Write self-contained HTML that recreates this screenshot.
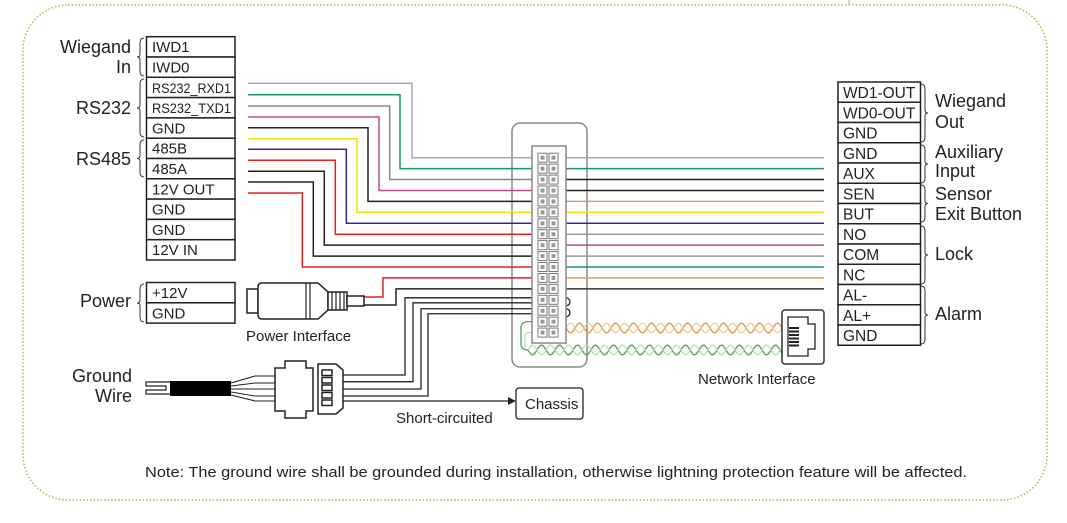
<!DOCTYPE html>
<html><head><meta charset="utf-8"><style>
html,body{margin:0;padding:0;background:#fff;}
svg{display:block;font-family:"Liberation Sans",sans-serif;}
</style></head><body>
<svg id="s" width="1067" height="523" viewBox="0 0 1067 523" xmlns="http://www.w3.org/2000/svg">
<rect x="23" y="5" width="1024" height="495" rx="45" fill="none" stroke="#8cc850" stroke-width="1.5" stroke-dasharray="1.5 2"/>
<line x1="849" y1="0" x2="849" y2="5" stroke="#8cc850"/>
<g id="g"></g>
<g font-size="18" fill="#222">
<text x="131" y="53" text-anchor="end">Wiegand</text>
<text x="131" y="73" text-anchor="end">In</text>
<text x="131" y="114" text-anchor="end">RS232</text>
<text x="131" y="165" text-anchor="end">RS485</text>
<text x="131" y="307" text-anchor="end">Power</text>
<text x="132" y="382" text-anchor="end">Ground</text>
<text x="132" y="402" text-anchor="end">Wire</text>
<text x="935" y="107">Wiegand</text>
<text x="935" y="128">Out</text>
<text x="935" y="158">Auxiliary</text>
<text x="935" y="177">Input</text>
<text x="935" y="200">Sensor</text>
<text x="935" y="220">Exit Button</text>
<text x="935" y="260">Lock</text>
<text x="935" y="320">Alarm</text>
</g>
<g font-size="15" fill="#222">
<text x="246" y="341">Power Interface</text>
<text x="698" y="384">Network Interface</text>
<text x="396" y="423">Short-circuited</text>
<text x="525" y="409">Chassis</text>
<text x="145" y="477" textLength="822" lengthAdjust="spacingAndGlyphs">Note: The ground wire shall be grounded during installation, otherwise lightning protection feature will be affected.</text>
</g>
</svg>
<script>
var g=document.getElementById('g'),h='';
function L(p,c,w){h+='<path d="'+p+'" fill="none" stroke="'+c+'" stroke-width="'+(w||1.5)+'"/>';}
function R(x,y,w,hh,extra){h+='<rect x="'+x+'" y="'+y+'" width="'+w+'" height="'+hh+'" fill="#fff" stroke="#222" stroke-width="1.5" '+(extra||'')+'/>';}
function T(x,y,t,s){h+='<text x="'+x+'" y="'+y+'" font-size="'+(s||15)+'" fill="#222">'+t+'</text>';}
h+='<rect x="512" y="123" width="75" height="244" rx="8" fill="#fff" stroke="#888" stroke-width="1.5"/>';
var ly=[83.3,94.7,106,117,127.7,138.7,149.3,160.3,171.3,182,193];
var lc=['#aaa','#1a9a5a','#888','#b0508a','#222','#f0e000','#2a2aa0','#e02020','#222','#222','#e02020'];
var tx=[412,400,389.7,379,368,357,346.3,335.3,324.3,313.3,302.3];
function py(i){return 157.7+10.93*i;}
for(var i=0;i<11;i++)L('M248 '+ly[i]+' H'+tx[i]+' V'+py(i)+' H540',lc[i]);
L('M364 297 H383 V'+py(11)+' H540','#e02020');
L('M364 305 H396 V'+py(12)+' H540','#222');
var gy=[375,381.7,389,396],gx=[405,413,421,428],ge=[py(13)-2,py(13)+3,py(14)-2,py(14)+3];
for(i=0;i<4;i++)L('M343 '+gy[i]+' H'+gx[i]+' V'+ge[i]+' H540','#222',1.3);
L('M343 401 H508','#222',1.3);
h+='<path d="M508 397 L516 401 L508 405Z" fill="#222"/>';
var rc=['#aaa','#1a9a5a','#222','#222','#c8a080','#f0e000','#2a2aa0','#999','#b0508a','#999','#1a9a5a','#e8a050','#333'];
for(i=0;i<13;i++)L('M560 '+py(i)+' H824',rc[i]);
L('M560 '+(py(13)-2)+' h6 a4 4 0 0 1 0 8 h-6','#222',1.3);
L('M560 '+(py(14)-2)+' h6 a4 4 0 0 1 0 8 h-6','#222',1.3);
function tw(x0,x1,cy,c,ph){var d='M'+x0+' '+(cy+5*Math.sin(ph));for(var x=x0;x<=x1;x+=2)d+=' L'+x+' '+(cy+5*Math.sin((x-x0)/18*2*Math.PI+ph)).toFixed(1);L(d,c,1.3);}
tw(566,782,328,'#e8913a',0);tw(566,782,328,'#f3c9a0',Math.PI);
tw(528,782,350,'#4aa84a',0);tw(528,782,350,'#b8e0b0',Math.PI);
L('M540 '+py(15)+' H528 Q520 '+py(15)+' 521 330 V345 Q522 350 528 350','#4aa84a',1.3);
L('M540 '+py(16)+' H530 Q524 '+py(16)+' 525 338 V348','#b8e0b0',1.3);
h+='<rect x="532" y="146" width="34" height="197" fill="#fff" stroke="#888" stroke-width="1.5"/>';
for(i=0;i<17;i++)for(var k=0;k<2;k++){var x=538+k*11,y=py(i)-4.5;h+='<rect x="'+x+'" y="'+y+'" width="9" height="9" fill="#fff" stroke="#777" stroke-width="1"/><rect x="'+(x+2.5)+'" y="'+(y+2.5)+'" width="4" height="4" fill="#999"/>';}
var lt=['IWD1','IWD0','RS232_RXD1','RS232_TXD1','GND','485B','485A','12V OUT','GND','GND','12V IN'];
for(i=0;i<11;i++){var y=36.7+20.3*i;R(146.5,y,88.5,20.3);if(i==2||i==3)h+='<text x="152" y="'+(y+15.5)+'" font-size="14" fill="#222" textLength="79" lengthAdjust="spacingAndGlyphs">'+lt[i]+'</text>';else T(152,y+15.5,lt[i]);}
R(146.5,282.5,88.5,20.3);T(152,298,'+12V');R(146.5,302.8,88.5,20.3);T(152,318.3,'GND');
var rt=['WD1-OUT','WD0-OUT','GND','GND','AUX','SEN','BUT','NO','COM','NC','AL-','AL+','GND'];
for(i=0;i<13;i++){var y=82+20.25*i;R(838,y,82.5,20.25);T(843,y+16,rt[i],15.5);}
function bl(x,y0,y1){var m=(y0+y1)/2;L('M'+(x+4)+' '+y0+' Q'+x+' '+y0+' '+x+' '+(y0+5)+' V'+(m-3)+' Q'+x+' '+m+' '+(x-3)+' '+m+' Q'+x+' '+m+' '+x+' '+(m+3)+' V'+(y1-5)+' Q'+x+' '+y1+' '+(x+4)+' '+y1,'#333',1);}
function br(x,y0,y1){var m=(y0+y1)/2;L('M'+(x-4)+' '+y0+' Q'+x+' '+y0+' '+x+' '+(y0+5)+' V'+(m-3)+' Q'+x+' '+m+' '+(x+3)+' '+m+' Q'+x+' '+m+' '+x+' '+(m+3)+' V'+(y1-5)+' Q'+x+' '+y1+' '+(x-4)+' '+y1,'#333',1);}
bl(140,38,76);bl(140,79,137);bl(140,140,177);bl(140,284,322);
br(925,84,142);br(925,145,183);br(925,185,222);br(925,226,284);br(925,286,344);
R(247,289,11,24);
h+='<path d="M262 283 H318 L328 292 V310 L318 319 H262 Q258 319 258 315 V287 Q258 283 262 283Z" fill="#fff" stroke="#222" stroke-width="1.5"/>';
L('M306 283 V319 M310 283 V319','#222',1.2);
R(328,292,19,18);L('M332 292 V310 M336 292 V310 M340 292 V310 M344 292 V310','#222',1.2);
R(347,296,17,10);
L('M170 382 H146 V386 H166 V390 H146 V394 H170','#222',1.2);
h+='<rect x="170" y="381" width="61" height="15" fill="#000"/>';
L('M231 383 L255 376 H275 M231 386 L255 383 H275 M231 389 L255 389 H275 M231 392 L255 396 H275 M231 395 L255 401 H275','#222',1.1);
h+='<path d="M275 368 H285 V361 H306 V368 H313 V411 H306 V418 H285 V411 H275Z" fill="#fff" stroke="#222" stroke-width="1.5"/>';
h+='<path d="M318 364 H336 L343 370 V408 L336 414 H318Z" fill="#fff" stroke="#222" stroke-width="1.5"/>';
for(i=0;i<5;i++)R(322,370+i*7.5,10,5.5,'stroke-width="1"');
h+='<rect x="516" y="388" width="67" height="31" rx="3" fill="#fff" stroke="#222" stroke-width="1.3"/>';
h+='<rect x="782" y="310" width="42" height="54" rx="3" fill="#fff" stroke="#333" stroke-width="1.5"/>';
L('M788 317 H808 V324 H815 V349 H808 V356 H788Z','#222',1.3);
for(i=0;i<6;i++)h+='<rect x="789" y="'+(327+i*3.5)+'" width="10" height="2" fill="#222"/>';
g.innerHTML=h;
</script>
</body></html>
